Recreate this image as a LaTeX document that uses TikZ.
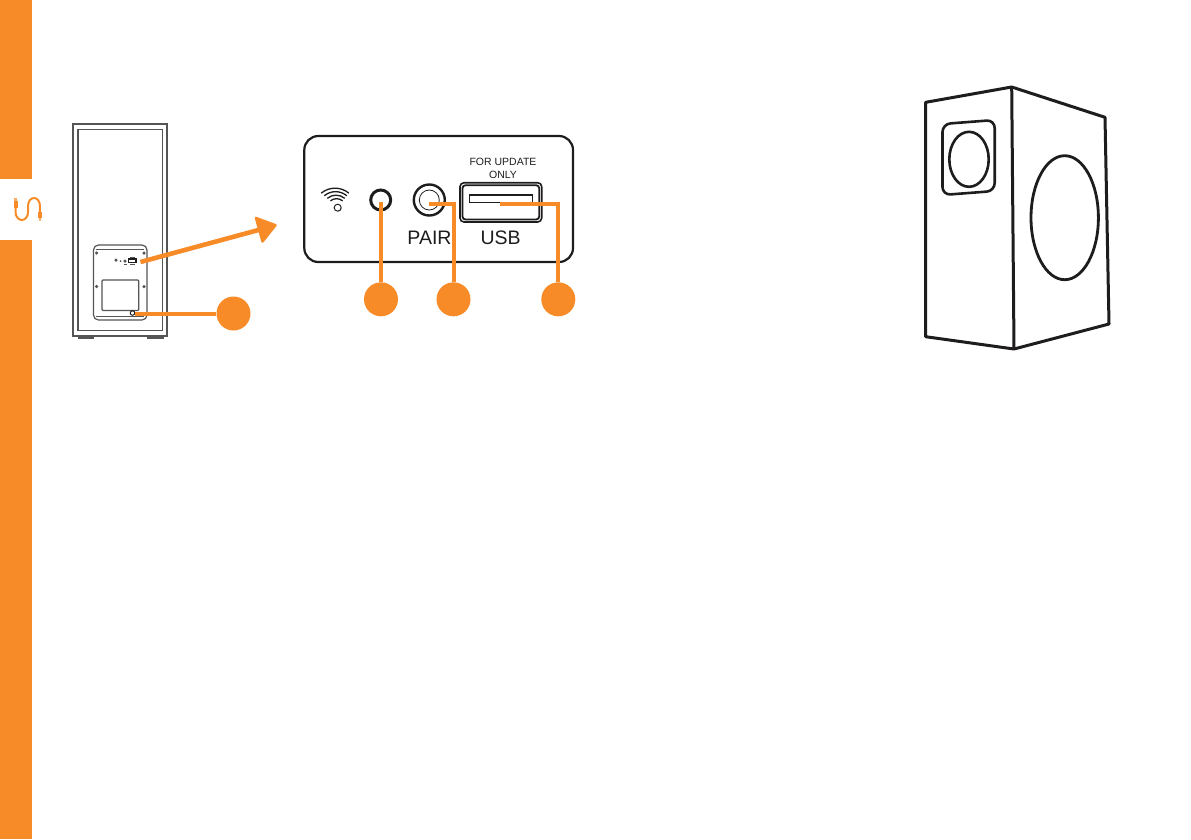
\documentclass[tikz,border=0pt]{standalone}
\usepackage{fontspec}
\usetikzlibrary{calc}
\setmainfont{Liberation Sans}
\definecolor{org}{HTML}{F68B27}
\definecolor{ink}{HTML}{1E1C1C}
\definecolor{gry}{HTML}{555555}
\tikzset{
  badge/.style={circle,fill=org,minimum size=34pt,inner sep=0pt},
  lead/.style={org,line width=4pt},
  thinl/.style={gry,line width=1.2pt},
  ink2/.style={ink,line width=3pt,line join=round},
  lab/.style={text=ink,inner sep=0pt,font=\fontsize{19.5}{20}\selectfont},
  screw/.style={circle,fill=gry,minimum size=3.5pt,inner sep=0pt}
}
\begin{document}
\begin{tikzpicture}[x=1pt,y=-1pt]
\useasboundingbox (0,0) rectangle (1191,839);
% sidebar
\fill[org] (0,0) rectangle (32,179);
\fill[org] (0,240) rectangle (32,839);
% cable icon
\draw[org,line width=2pt] (15.5,208) -- (15.5,212) arc[start angle=180,end angle=0,x radius=6.3,y radius=8] -- (28.1,205.5) arc[start angle=180,end angle=360,x radius=5.9,y radius=7.5] -- (39.9,212);
\fill[org] (13.5,201) rectangle (17.5,208);
\fill[org!70] (14.2,198) rectangle (16.8,201);
\fill[org] (37.8,212) rectangle (42,218);
\fill[org!70] (38.6,218) rectangle (41.2,221);
% back of speaker
\draw[thinl] (73,124) rectangle (167,336);
\draw[thinl] (78,129.5) rectangle (162.5,330.5);
\draw[thinl] (78.5,336) -- (78.5,338) -- (93,338) -- (93,336);
\draw[thinl] (148,336) -- (148,338) -- (163,338) -- (163,336);
\draw[thinl,rounded corners=5pt] (93.5,245) rectangle (147,320);
\draw[gry,line width=.5pt] (96,249.5) -- (144,249.5);
\draw[gry,line width=.5pt] (96,316) -- (144,316);
\draw[thinl,rounded corners=1pt] (102,280) rectangle (138.7,310.5);
\foreach \n/\x/\y in {a/96.7/253,b/144/253,c/96.7/286.5,d/144/286.5}{\node[screw] (s\n) at (\x,\y) {};}
\node[screw,minimum size=3.5pt] (p1) at (116,260) {};
\node[screw,minimum size=2pt] (p2) at (120.5,261) {};
\node[screw,minimum size=3.5pt] (p3) at (125,261) {};
\draw[ink,line width=1.2pt] (128.5,259) rectangle (136,262.5);
\draw[gry,line width=.5pt] (130,257.5) -- (134.5,257.5);
\draw[gry,line width=.5pt] (130,264.5) -- (134.5,264.5);
\draw[gry,line width=.5pt] (123.5,264.5) -- (127,264.5);
\node[circle,draw=ink,line width=1pt,minimum size=4.5pt,inner sep=0pt] (pw) at (132.5,313) {};
% badge and arrow on speaker
\node[badge] (b0) at (233.5,313.5) {};
\draw[lead] (135,313.5) -- (b0);
\coordinate (astart) at (140.5,262);
\coordinate (aend) at (264,228.5);
\draw[org,line width=4.6pt] (astart) -- (aend);
\filldraw[org,line width=2.5pt,line join=round] (256,218) -- (275.5,225.2) -- (262.5,241.5) -- cycle;
% control panel
\draw[ink,line width=2.2pt,rounded corners=14pt] (304.3,136) rectangle (573,262);
% wifi
\node[circle,draw=ink,line width=1pt,minimum size=7pt,inner sep=0pt] (wifi) at (337.7,207.7) {};
\foreach \r in {9.5,13.5,17.5,21.5}{
  \draw[ink,line width=1.3pt] ($(337.7,207)+({-\r*0.766},{-\r*0.643})$) arc[start angle=-130,end angle=-50,radius=\r];
}
% jack
\node[circle,draw=ink,line width=3pt,minimum size=20pt,inner sep=0pt] (jack) at (380.7,200) {};
% pair button
\node[circle,draw=ink,line width=2.4pt,minimum size=31pt,inner sep=0pt] (pair) at (429.3,200) {};
\node[circle,draw=ink,line width=.8pt,minimum size=20pt,inner sep=0pt] (pairin) at (429.3,200) {};
% usb
\draw[ink,line width=1.6pt,rounded corners=4pt] (460,182.7) rectangle (541.7,222);
\draw[ink,line width=1.8pt,rounded corners=3pt] (462.5,185.2) rectangle (539.2,219.5);
\draw[ink,line width=1pt] (469,194) rectangle (532,202);
\fill[ink] (469,194) rectangle (532,196);
\node[text=ink,inner sep=0pt,align=center,font=\fontsize{10.5}{13}\selectfont] (upd) at (503,168) {FOR UPDATE\\ONLY};
\node[lab] (pairt) at (429.5,238) {PAIR};
\node[lab] (usbt) at (500.7,238) {USB};
% badges & leaders
\node[badge] (b1) at (381,299.3) {};
\node[badge] (b2) at (453.5,299.3) {};
\node[badge] (b3) at (558.3,299.3) {};
\coordinate (j0) at (381,202);
\coordinate (p0) at (428.5,203.5);
\coordinate (u0) at (500,204);
\draw[lead] (j0) -- (b1);
\draw[lead,line join=miter] (p0) -| (b2);
\draw[lead,line join=miter] (u0) -| (b3);
% 3d speaker
\draw[ink2] (925.7,102.3) -- (1011.7,87) -- (1105,117.3) -- (1109,324) -- (1014,349) -- (925.7,336.7) -- cycle;
\draw[ink2] (1011.7,87) -- (1014,349);
\draw[ink,line width=2.6pt,rounded corners=8pt] (942.5,124) -- (994.7,120) -- (994.7,191) -- (942.5,195) -- cycle;
\draw[ink,line width=2.6pt] (969,159.3) ellipse[x radius=19.7,y radius=27.5];
\draw[ink,line width=2.8pt] (1064.7,217.7) ellipse[x radius=33.7,y radius=62];
\end{tikzpicture}
\end{document}
